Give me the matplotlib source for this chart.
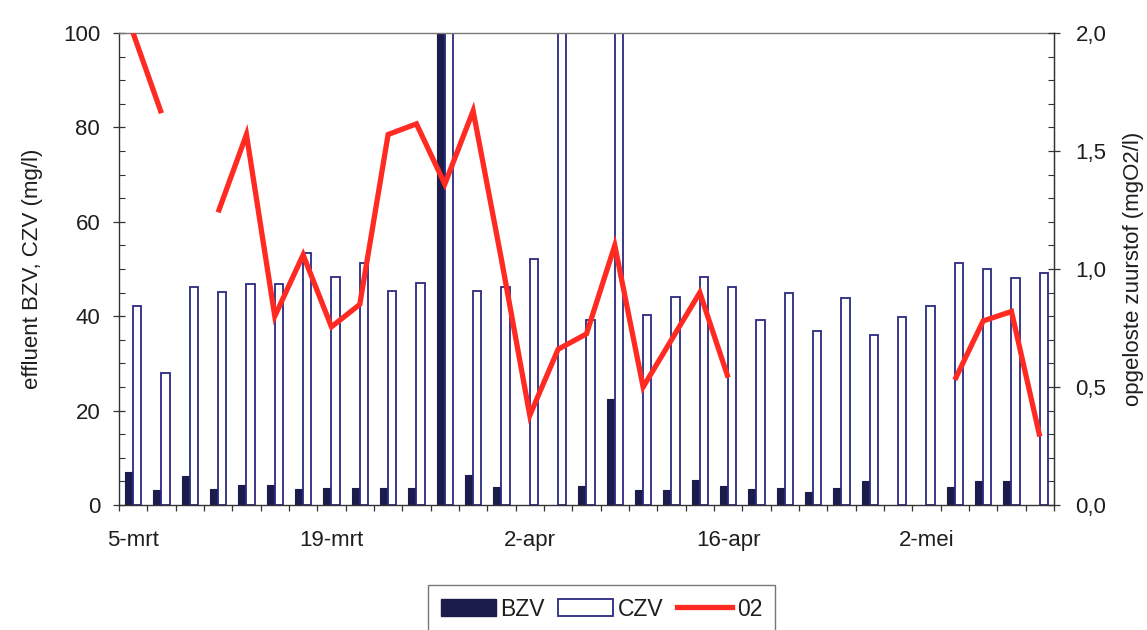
import numpy as np
import matplotlib
matplotlib.use("Agg")
import matplotlib.pyplot as plt
from matplotlib.ticker import MultipleLocator, FixedLocator, FuncFormatter
from matplotlib.patches import Patch
from matplotlib.lines import Line2D

plt.rcParams['font.family'] = ['Liberation Sans', 'DejaVu Sans']

# Sampling dates (category axis); only every 7th date is labelled
dates = ["5-mrt", "7-mrt", "9-mrt", "11-mrt", "13-mrt", "15-mrt", "17-mrt",
         "19-mrt", "21-mrt", "23-mrt", "25-mrt", "27-mrt", "29-mrt", "31-mrt",
         "2-apr", "4-apr", "6-apr", "8-apr", "10-apr", "12-apr", "14-apr",
         "16-apr", "18-apr", "20-apr", "23-apr", "25-apr", "27-apr", "30-apr",
         "2-mei", "4-mei", "7-mei", "9-mei", "11-mei"]

# Effluent BZV (mg/l); nan = not measured
bzv = [6.9, 3.2, 6.2, 3.3, 4.2, 4.2, 3.4, 3.5, 3.5, 3.5, 3.7, 110.0, 6.3,
       3.9, np.nan, np.nan, 4.0, 22.5, 3.1, 3.1, 5.2, 4.0, 3.3, 3.7, 2.8,
       3.7, 5.0, np.nan, np.nan, 3.9, 5.1, 5.1, np.nan]

# Effluent CZV (mg/l)
czv = [42.2, 28.0, 46.1, 45.1, 46.8, 46.9, 53.4, 48.3, 51.3, 45.3, 47.1,
       150.0, 45.3, 46.2, 52.1, 130.0, 39.3, 125.0, 40.2, 44.1, 48.3, 46.2,
       39.2, 45.0, 36.9, 43.8, 36.0, 39.9, 42.1, 51.2, 50.0, 48.2, 49.1]

# Dissolved oxygen (mgO2/l); gaps where no reading was taken
o2 = [2.0, 1.66, np.nan, 1.24, 1.57, 0.80, 1.06, 0.755, 0.85, 1.57, 1.615,
      1.36, 1.67, 1.04, 0.38, 0.66, 0.725, 1.10, 0.50, 0.70, 0.90, 0.54,
      np.nan, np.nan, np.nan, np.nan, np.nan, np.nan, np.nan, 0.53, 0.78,
      0.82, 0.29]

label_every = 7

navy = "#1c1c4c"
edge = "#2a2a80"
red = "#ff2b22"
txt = "#1e1e1e"
fs = 16

fig = plt.figure(figsize=(11.47, 6.30), dpi=100)
ax = fig.add_axes([0.1037, 0.1984, 0.8152, 0.7492])

x = np.arange(len(dates))
w = 0.285
ax.bar(x - w / 2, bzv, width=w, color=navy, edgecolor=navy, linewidth=0.8,
       zorder=2)
ax.bar(x + w / 2, czv, width=w, color="white", edgecolor=edge, linewidth=1.3,
       zorder=2)

ax.set_xlim(-0.5, len(dates) - 0.5)
ax.set_ylim(0, 100)

# x axis: labels on every 7th sample, tick marks between categories
ax.xaxis.set_major_locator(FixedLocator(x[::label_every]))
ax.set_xticklabels(dates[::label_every])
ax.xaxis.set_minor_locator(FixedLocator(np.arange(-0.5, len(dates), 1.0)))
ax.tick_params(axis='x', which='major', length=0, pad=18, labelsize=fs,
               labelcolor=txt)
ax.tick_params(axis='x', which='minor', length=4, width=0.9, direction='out',
               color="#333333")

ax.yaxis.set_major_locator(MultipleLocator(20))
ax.yaxis.set_minor_locator(MultipleLocator(5))
ax.tick_params(axis='y', which='major', direction='inout', length=9,
               width=0.9, labelsize=fs, labelcolor=txt, pad=9,
               color="#333333")
ax.tick_params(axis='y', which='minor', direction='in', length=4.5,
               width=0.8, color="#333333")
ax.set_ylabel("effluent BZV, CZV (mg/l)", fontsize=fs, color=txt,
              labelpad=14)

for side in ("left", "bottom", "right"):
    ax.spines[side].set_color("#333333")
    ax.spines[side].set_linewidth(1.0)
ax.spines["top"].set_color("#777777")
ax.spines["top"].set_linewidth(1.0)

ax2 = ax.twinx()
ax2.plot(x, o2, color=red, linewidth=3.8, solid_joinstyle='miter',
         solid_capstyle='butt', zorder=3)
ax2.set_ylim(0, 2.0)
ax2.yaxis.set_major_locator(MultipleLocator(0.5))
ax2.yaxis.set_minor_locator(MultipleLocator(0.1))
ax2.yaxis.set_major_formatter(FuncFormatter(lambda v, p: f"{v:.1f}".replace('.', ',')))
ax2.tick_params(axis='y', which='major', direction='inout', length=9,
                width=0.9, labelsize=fs, labelcolor=txt, pad=11,
                color="#333333")
ax2.tick_params(axis='y', which='minor', direction='in', length=4.5,
                width=0.8, color="#333333")
ax2.set_ylabel("opgeloste zuurstof (mgO2/l)", fontsize=fs, color=txt,
               labelpad=12)
for sp in ax2.spines.values():
    sp.set_visible(False)
ax2.spines["right"].set_visible(True)
ax2.spines["right"].set_color("#333333")

handles = [Patch(facecolor=navy, edgecolor=navy),
           Patch(facecolor="white", edgecolor=edge, linewidth=1.3),
           Line2D([], [], color=red, linewidth=3.8)]
leg = fig.legend(handles, ["BZV", "CZV", "02"], loc="upper left",
                 bbox_to_anchor=(428 / 1147, 1 - 585 / 630), ncol=3,
                 frameon=True, fancybox=False, fontsize=16.5,
                 handlelength=2.4, handleheight=0.75, handletextpad=0.2,
                 columnspacing=0.6, borderpad=0.55, borderaxespad=0)
leg.get_frame().set_edgecolor("#555555")
leg.get_frame().set_linewidth(1.0)
for t in leg.get_texts():
    t.set_color(txt)

fig.savefig("out.png", dpi=100, facecolor="white")
